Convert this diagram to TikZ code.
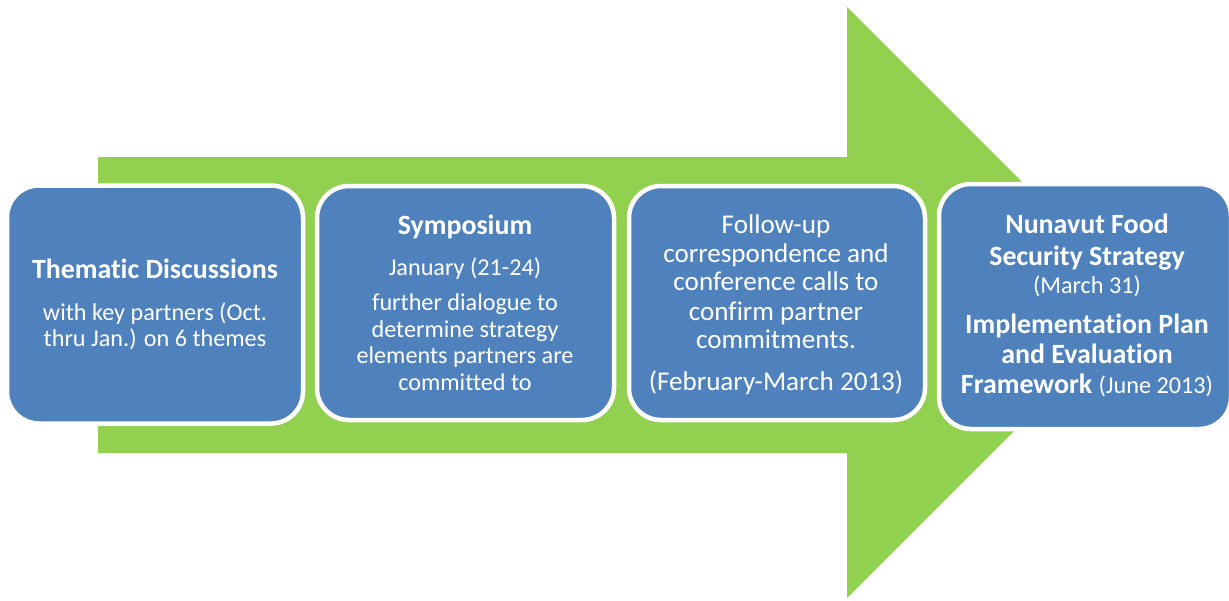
\documentclass[tikz,border=0pt]{standalone}
\usepackage{fontspec}
\setmainfont{Carlito}[Ligatures=NoCommon]
\definecolor{arrowgreen}{HTML}{92D050}
\definecolor{boxblue}{HTML}{4F81BD}
\begin{document}
\begin{tikzpicture}[x=1pt,y=-1pt,
  stagebox/.style={fill=boxblue,draw=white,line width=4.5pt,rounded corners=32pt},
  bt/.style={anchor=base,text=white,inner sep=0pt,font=\bfseries\fontsize{27.9}{31}\selectfont},
  rs/.style={anchor=base,text=white,inner sep=0pt,font=\fontsize{24.2}{27}\selectfont},
  rl/.style={anchor=base,text=white,inner sep=0pt,font=\fontsize{27.1}{30}\selectfont}]
\useasboundingbox (0,0) rectangle (1229,600);
% big arrow
\path[fill=arrowgreen] (98,157) -- (847,157) -- (847,7) -- (1142.5,302.5)
  -- (847,598) -- (847,453) -- (98,453) -- cycle;
% boxes
\draw[stagebox] (7,185.5) rectangle (303,423.5);
\draw[stagebox] (317,186) rectangle (614,420);
\draw[stagebox] (629,186) rectangle (925,420);
\draw[stagebox] (939,184) rectangle (1231,429);
% box 1
\node[bt] (t1a) at (155,278) {Thematic Discussions};
\node[rs] (t1b) at (155,320) {with key partners (Oct.};
\node[rs] (t1c) at (155,346) {thru Jan.) on 6 themes};
% box 2
\node[bt] (t2a) at (465,234) {Symposium};
\node[rs] (t2b) at (465,275) {January (21-24)};
\node[rs] (t2c) at (465,310) {further dialogue to};
\node[rs] (t2d) at (465,337) {determine strategy};
\node[rs] (t2e) at (465,363) {elements partners are};
\node[rs] (t2f) at (465,390) {committed to};
% box 3
\node[rl] (t3a) at (776,233) {Follow-up};
\node[rl] (t3b) at (776,262) {correspondence and};
\node[rl] (t3c) at (776,290) {conference calls to};
\node[rl] (t3d) at (776,320) {confirm partner};
\node[rl] (t3e) at (776,348) {commitments.};
\node[rl] (t3f) at (776,390) {(February-March 2013)};
% box 4
\node[bt] (t4a) at (1087,233) {Nunavut Food};
\node[bt] (t4b) at (1087,265) {Security Strategy};
\node[rs] (t4c) at (1087,293) {(March 31)};
\node[bt] (t4d) at (1087,333) {Implementation Plan};
\node[bt] (t4e) at (1087,363) {and Evaluation};
\node[bt] (t4f) at (1087,393) {Framework {\mdseries\fontsize{24.2}{27}\selectfont (June 2013)}};
\end{tikzpicture}
\end{document}
